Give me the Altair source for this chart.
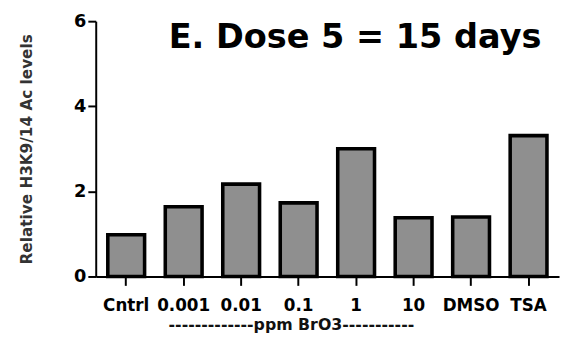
import altair as alt
import pandas as pd

categories = ["Cntrl", "0.001", "0.01", "0.1", "1", "10", "DMSO", "TSA"]
values = [0.98, 1.64, 2.17, 1.73, 3.0, 1.38, 1.40, 3.31]
y_ticks = [0, 2, 4, 6]
title_text = "E. Dose 5 = 15 days"
x_title = "-------------ppm BrO3-----------"
y_title = "Relative H3K9/14 Ac levels"

df = pd.DataFrame({"cat": categories, "val": values})
FONT = "DejaVu Sans"

bars = alt.Chart(df).mark_bar(
    fill="#8f8f8f", stroke="black", strokeWidth=3.6
).encode(
    x=alt.X("cat:N", sort=categories,
            scale=alt.Scale(paddingInner=0.36, paddingOuter=0.21),
            axis=alt.Axis(title=x_title, labelAngle=0, labelFont=FONT,
                          labelFontWeight="bold", labelFontSize=17,
                          labelColor="black", labelPadding=13,
                          domainColor="black", domainWidth=2,
                          tickColor="black", tickWidth=2, tickSize=9,
                          titleFont=FONT, titleFontWeight="bold",
                          titleFontSize=16, titleColor="#111",
                          titleX=198, titleY=41, titleAlign="center",
                          titleBaseline="top")),
    y=alt.Y("val:Q", scale=alt.Scale(domain=[0, 6], nice=False),
            axis=alt.Axis(title=y_title, values=y_ticks, grid=False,
                          labelFont=FONT, labelFontWeight="bold",
                          labelFontSize=18, labelColor="black",
                          labelPadding=2, domainColor="black",
                          domainWidth=2, tickColor="black", tickWidth=2,
                          tickSize=8, titleFont=FONT,
                          titleFontWeight="bold", titleFontSize=15.5,
                          titleColor="#333", titlePadding=40)),
)

title = alt.Chart(pd.DataFrame({"t": [title_text]})).mark_text(
    font=FONT, fontWeight="bold", fontSize=34, align="left",
    baseline="alphabetic", color="black"
).encode(text="t:N", x=alt.value(74), y=alt.value(27))

chart = alt.layer(bars, title).properties(
    width=470, height=259,
    autosize=alt.AutoSizeParams(type="none"),
    padding={"left": 89, "top": 11, "right": 2, "bottom": 57},
).configure_view(stroke=None)

chart.save("out.html", embed_options={"renderer": "svg", "actions": False})
